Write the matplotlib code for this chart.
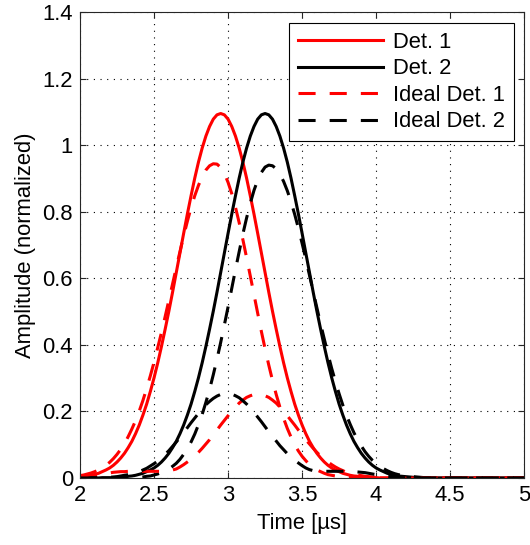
import numpy as np
import matplotlib
matplotlib.use("Agg")
import matplotlib.pyplot as plt

plt.rcParams['font.family'] = ['Liberation Sans', 'DejaVu Sans']

# time axis (us): read every 0.025 us from 2.0 to 4.4, flat zero after that
time_us = np.append(np.round(np.arange(2.0, 4.4001, 0.025), 3), 5.0)

# measured detector signals (normalized amplitude)
det1 = [0.004, 0.005, 0.006, 0.008, 0.011, 0.014, 0.019, 0.024, 0.030, 0.038,
        0.048, 0.060, 0.074, 0.091, 0.110, 0.133, 0.159, 0.189, 0.222, 0.260,
        0.301, 0.346, 0.395, 0.447, 0.501, 0.558, 0.617, 0.676, 0.735, 0.793,
        0.848, 0.901, 0.949, 0.991, 1.027, 1.056, 1.078, 1.091, 1.095, 1.091,
        1.078, 1.056, 1.027, 0.991, 0.949, 0.901, 0.848, 0.793, 0.735, 0.676,
        0.617, 0.558, 0.501, 0.447, 0.395, 0.346, 0.301, 0.260, 0.222, 0.189,
        0.159, 0.133, 0.110, 0.091, 0.074, 0.060, 0.048, 0.038, 0.030, 0.024,
        0.019, 0.014, 0.011, 0.008, 0.006, 0.005, 0.004, 0.003, 0.002, 0.001,
        0.001, 0, 0, 0, 0, 0, 0, 0, 0, 0,
        0, 0, 0, 0, 0, 0, 0, 0]
det2 = [0, 0, 0, 0, 0, 0, 0.001, 0.001, 0.001, 0.001,
        0.002, 0.003, 0.004, 0.005, 0.006, 0.008, 0.011, 0.014, 0.019, 0.024,
        0.030, 0.038, 0.048, 0.060, 0.074, 0.091, 0.110, 0.133, 0.159, 0.189,
        0.222, 0.260, 0.301, 0.346, 0.395, 0.447, 0.501, 0.558, 0.617, 0.676,
        0.735, 0.793, 0.848, 0.901, 0.949, 0.991, 1.027, 1.056, 1.078, 1.091,
        1.095, 1.091, 1.078, 1.056, 1.027, 0.991, 0.949, 0.901, 0.848, 0.793,
        0.735, 0.676, 0.617, 0.558, 0.501, 0.447, 0.395, 0.346, 0.301, 0.260,
        0.222, 0.189, 0.159, 0.133, 0.110, 0.091, 0.074, 0.060, 0.048, 0.038,
        0.030, 0.024, 0.019, 0.014, 0.011, 0.008, 0.006, 0.005, 0.004, 0.003,
        0.002, 0.001, 0.001, 0, 0, 0, 0, 0]

# ideal detector signals: main pulse and cross-talk pulse
ideal1 = [0.007, 0.009, 0.012, 0.015, 0.019, 0.024, 0.030, 0.038, 0.047, 0.058,
          0.071, 0.086, 0.103, 0.124, 0.147, 0.172, 0.201, 0.233, 0.269, 0.307,
          0.348, 0.392, 0.437, 0.485, 0.534, 0.583, 0.632, 0.680, 0.727, 0.771,
          0.812, 0.848, 0.879, 0.905, 0.925, 0.938, 0.944, 0.943, 0.933, 0.915,
          0.888, 0.854, 0.813, 0.767, 0.716, 0.662, 0.607, 0.551, 0.495, 0.440,
          0.388, 0.339, 0.293, 0.251, 0.213, 0.179, 0.149, 0.123, 0.100, 0.081,
          0.065, 0.052, 0.040, 0.031, 0.024, 0.019, 0.014, 0.010, 0.008, 0.006,
          0.004, 0.003, 0.002, 0.001, 0.001, 0, 0, 0, 0, 0,
          0, 0, 0, 0, 0, 0, 0, 0, 0, 0,
          0, 0, 0, 0, 0, 0, 0, 0]
ideal1_xt = [0.002, 0.003, 0.004, 0.005, 0.007, 0.009, 0.011, 0.013, 0.015, 0.017,
             0.018, 0.019, 0.019, 0.020, 0.020, 0.020, 0.020, 0.020, 0.020, 0.020,
             0.020, 0.020, 0.020, 0.021, 0.022, 0.024, 0.027, 0.033, 0.040, 0.048,
             0.056, 0.066, 0.077, 0.089, 0.102, 0.115, 0.130, 0.144, 0.159, 0.173,
             0.187, 0.201, 0.213, 0.225, 0.234, 0.242, 0.247, 0.251, 0.252, 0.251,
             0.247, 0.242, 0.234, 0.225, 0.213, 0.201, 0.187, 0.173, 0.159, 0.144,
             0.130, 0.115, 0.102, 0.089, 0.077, 0.066, 0.056, 0.048, 0.040, 0.033,
             0.027, 0.022, 0.017, 0.014, 0.011, 0.009, 0.007, 0.005, 0.004, 0.003,
             0.002, 0.001, 0.001, 0, 0, 0, 0, 0, 0, 0,
             0, 0, 0, 0, 0, 0, 0, 0]
ideal2 = [0, 0, 0, 0, 0, 0, 0, 0, 0, 0,
          0, 0, 0.001, 0.001, 0.001, 0.002, 0.002, 0.003, 0.005, 0.006,
          0.009, 0.012, 0.016, 0.021, 0.027, 0.035, 0.044, 0.056, 0.071, 0.088,
          0.108, 0.132, 0.160, 0.191, 0.227, 0.266, 0.310, 0.357, 0.407, 0.460,
          0.514, 0.570, 0.626, 0.680, 0.733, 0.781, 0.825, 0.864, 0.895, 0.918,
          0.934, 0.940, 0.938, 0.929, 0.913, 0.891, 0.863, 0.830, 0.792, 0.750,
          0.705, 0.658, 0.609, 0.560, 0.511, 0.463, 0.417, 0.372, 0.329, 0.290,
          0.253, 0.219, 0.188, 0.161, 0.136, 0.115, 0.096, 0.079, 0.065, 0.053,
          0.043, 0.035, 0.028, 0.022, 0.017, 0.013, 0.010, 0.008, 0.006, 0.005,
          0.004, 0.003, 0.002, 0.001, 0.001, 0, 0, 0]
ideal2_xt = [0, 0, 0, 0.001, 0.001, 0.001, 0.001, 0.002, 0.002, 0.003,
             0.004, 0.006, 0.008, 0.010, 0.012, 0.015, 0.019, 0.024, 0.029, 0.036,
             0.043, 0.051, 0.061, 0.071, 0.082, 0.095, 0.108, 0.122, 0.136, 0.151,
             0.166, 0.180, 0.194, 0.208, 0.220, 0.230, 0.239, 0.246, 0.251, 0.254,
             0.254, 0.252, 0.247, 0.241, 0.232, 0.222, 0.210, 0.197, 0.183, 0.169,
             0.154, 0.139, 0.125, 0.111, 0.097, 0.085, 0.073, 0.063, 0.053, 0.045,
             0.037, 0.030, 0.025, 0.022, 0.021, 0.020, 0.020, 0.020, 0.020, 0.020,
             0.020, 0.020, 0.020, 0.020, 0.019, 0.018, 0.017, 0.016, 0.014, 0.012,
             0.010, 0.008, 0.007, 0.005, 0.004, 0.003, 0.002, 0.001, 0.001, 0,
             0, 0, 0, 0, 0, 0, 0, 0]

xticks = [2, 2.5, 3, 3.5, 4, 4.5, 5]
yticks = [0, 0.2, 0.4, 0.6, 0.8, 1, 1.2, 1.4]

fig = plt.figure(figsize=(5.3, 5.45), dpi=100)
ax = fig.add_axes([0.151, 0.123, 0.838, 0.855])

lw = 2.2
dash = (0, (5.6, 4.6))
ax.plot(time_us, det1, color='red', lw=lw, label='Det. 1')
ax.plot(time_us, det2, color='black', lw=lw, label='Det. 2')
ax.plot(time_us, ideal1, color='red', lw=lw, ls=dash, label='Ideal Det. 1')
ax.plot(time_us, ideal2, color='black', lw=lw, ls=dash, label='Ideal Det. 2')
ax.plot(time_us, ideal1_xt, color='red', lw=lw, ls=dash)
ax.plot(time_us, ideal2_xt, color='black', lw=lw, ls=dash)

fs = 15.8
ax.set_xlim(2, 5)
ax.set_ylim(0, 1.4)
ax.set_xticks(xticks)
ax.set_xticklabels(['2', '2.5', '3', '3.5', '4', '4.5', '5'])
ax.set_yticks(yticks)
ax.set_yticklabels(['0', '0.2', '0.4', '0.6', '0.8', '1', '1.2', '1.4'])
ax.tick_params(direction='in', top=True, right=True, length=4, width=0.8,
               labelsize=fs, colors='#262626', labelcolor='black', pad=5)
ax.grid(True, color='black', ls=(0, (1, 5)), lw=0.8)
ax.set_axisbelow(True)
for sp in ax.spines.values():
    sp.set_color('#262626')
    sp.set_linewidth(0.8)

ax.set_xlabel('Time [µs]', fontsize=fs, labelpad=5)
ax.set_ylabel('Amplitude (normalized)', fontsize=fs, labelpad=5)

leg = ax.legend(loc='upper right', bbox_to_anchor=(0.977, 0.976), borderaxespad=0,
                fontsize=fs, handlelength=3.9, handletextpad=0.45,
                labelspacing=0.25, borderpad=0.4, fancybox=False,
                edgecolor='black', framealpha=1)
leg.get_frame().set_linewidth(0.8)

fig.savefig('out.png', dpi=100)
